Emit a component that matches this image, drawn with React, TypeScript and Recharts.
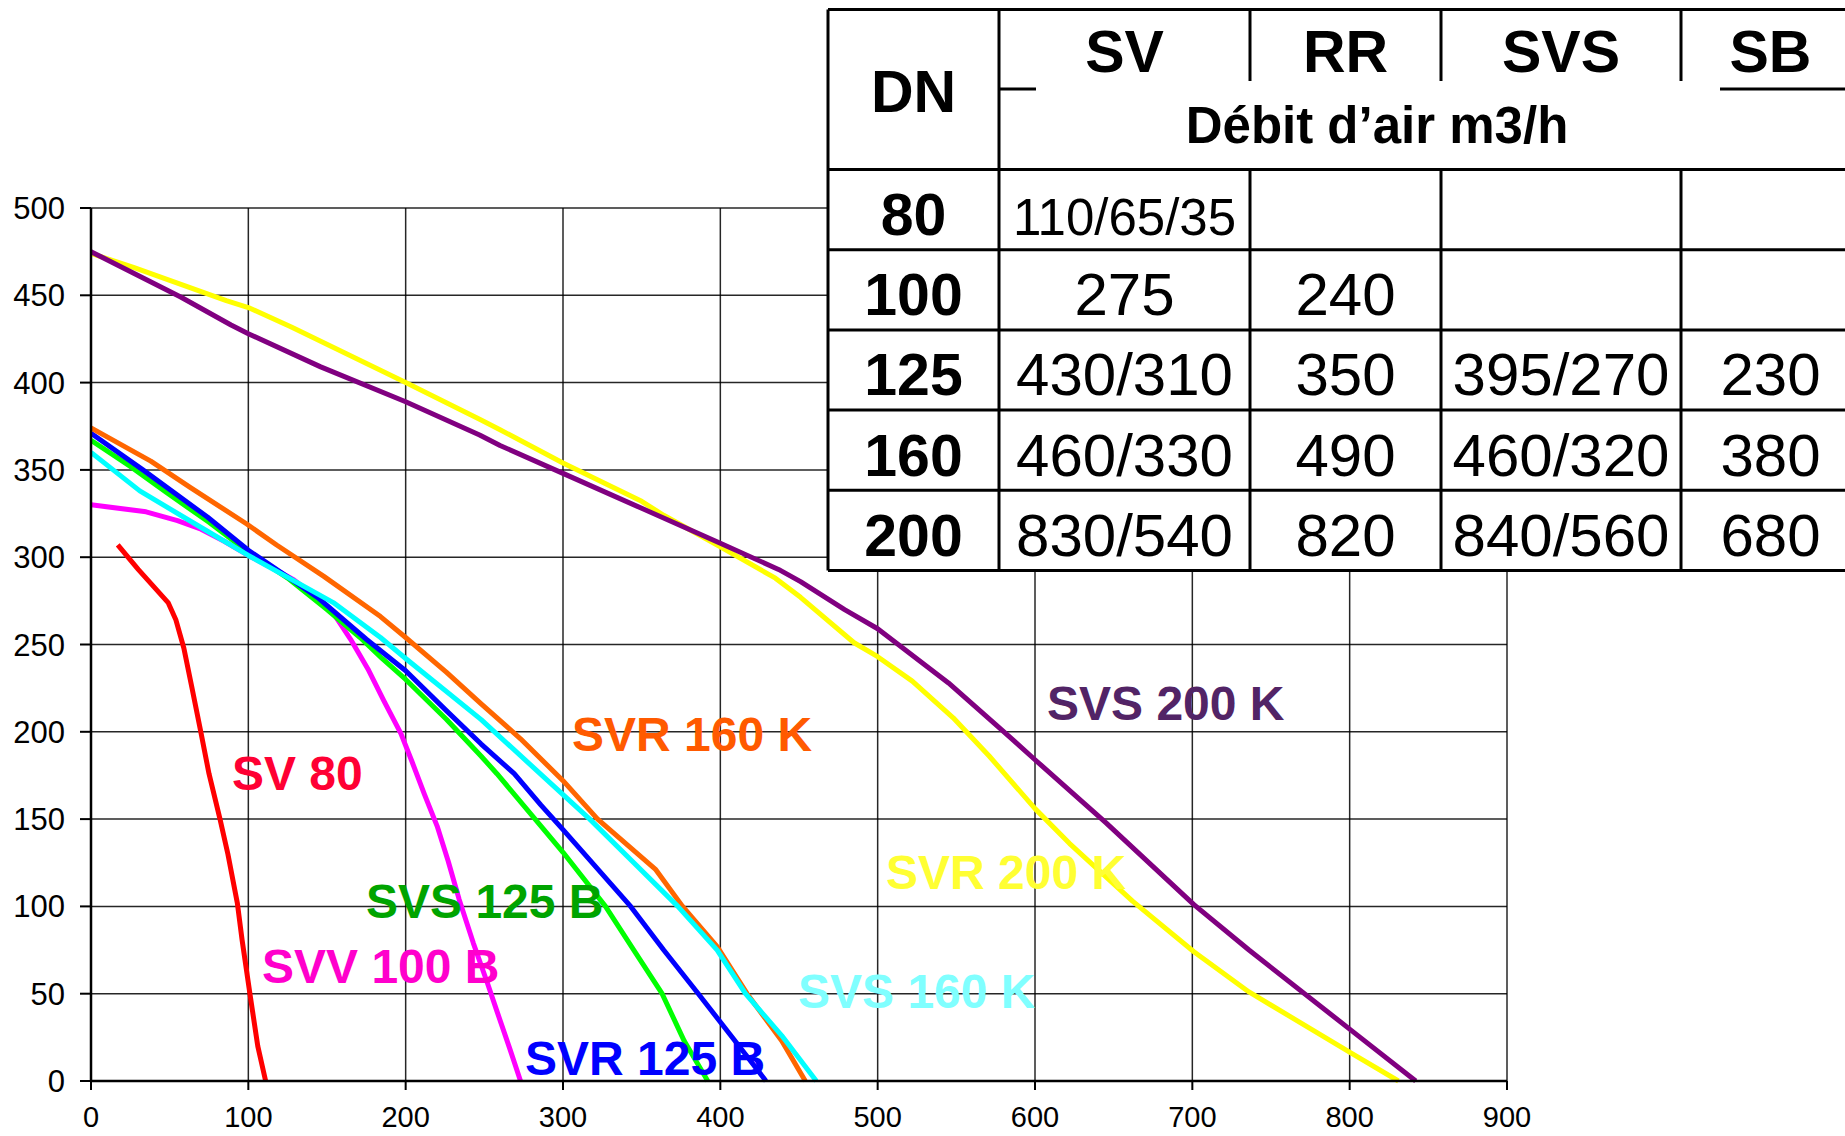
import { CartesianGrid, Line, LineChart, XAxis, YAxis } from "recharts"

// curve points: [debit, pression]
const sv80 = [
  [17, 307], [30, 293], [40, 283], [49, 274], [54, 264], [59, 248], [64, 226], [70, 199],
  [75, 176], [82, 150], [87, 130], [93, 102], [96, 81], [101, 50], [106, 20], [111, 0],
]
const svv100b = [
  [0, 330], [35, 326], [55, 321], [70, 316], [85, 309], [100, 301], [115, 294], [129, 287],
  [145, 276], [154, 268], [165, 253], [176, 236], [186, 218], [197, 199], [204, 183], [212, 164],
  [220, 146], [227, 126], [234, 104], [243, 79], [252, 56], [258, 40], [266, 19], [273, 0],
]
const svs125b = [
  [0, 367], [25, 352], [48, 337], [75, 320], [100, 303], [125, 288], [150, 270], [171, 254],
  [185, 242], [200, 230], [226, 207], [248, 186], [258, 176], [286, 146], [300, 131], [327, 100],
  [345, 75], [363, 50], [377, 23], [392, 0],
]
const svr125b = [
  [0, 371], [33, 350], [74, 323], [100, 304], [144, 277], [175, 253], [200, 235], [226, 212],
  [248, 193], [269, 176], [286, 158], [300, 144], [343, 100], [364, 75], [386, 50], [411, 21],
  [429, 0],
]
const svr160k = [
  [0, 374], [38, 355], [63, 340], [99, 319], [118, 307], [148, 289], [184, 266], [200, 254],
  [226, 234], [248, 216], [273, 196], [300, 172], [322, 150], [359, 121], [376, 100], [398, 77],
  [417, 50], [439, 23], [454, 0],
]
const svs160k = [
  [0, 360], [31, 338], [70, 317], [100, 301], [154, 274], [184, 254], [200, 242], [248, 207],
  [300, 164], [317, 150], [345, 125], [373, 100], [398, 75], [416, 50], [439, 26], [461, 0],
]
const svr200k = [
  [0, 474], [27, 466], [86, 447], [100, 443], [127, 432], [200, 400], [247, 379], [260, 373],
  [300, 354], [350, 332], [364, 324], [400, 306], [435, 288], [451, 277], [485, 251], [500, 243],
  [522, 229], [548, 208], [571, 186], [600, 156], [622, 136], [662, 103], [701, 74], [736, 51],
  [801, 16], [831, 0],
]
const svs200k = [
  [0, 475], [57, 449], [89, 433], [100, 428], [146, 409], [200, 389], [247, 370], [260, 364],
  [300, 348], [350, 328], [400, 308], [437, 293], [451, 286], [479, 270], [500, 259], [545, 228],
  [579, 201], [600, 184], [645, 148], [701, 101], [736, 75], [801, 29], [842, 0],
]

const xTicks = [0, 100, 200, 300, 400, 500, 600, 700, 800, 900]
const yTicks = [0, 50, 100, 150, 200, 250, 300, 350, 400, 450, 500]

// table
const tableHeads = ["SV", "RR", "SVS", "SB"]
const dnRows = ["80", "100", "125", "160", "200"]
const svFlow = ["110/65/35", "275", "430/310", "460/330", "830/540"]
const rrFlow = ["", "240", "350", "490", "820"]
const svsFlow = ["", "", "395/270", "460/320", "840/560"]
const sbFlow = ["", "", "230", "380", "680"]

const series = [
  { name: "SV 80", pts: sv80, color: "#ff0000", label: "#ff0033", lx: 232, ly: 790 },
  { name: "SVV 100 B", pts: svv100b, color: "#ff00ff", label: "#ff00cc", lx: 262, ly: 983 },
  { name: "SVS 125 B", pts: svs125b, color: "#00ff00", label: "#00a400", lx: 366, ly: 918 },
  { name: "SVR 125 B", pts: svr125b, color: "#0000ff", label: "#0000ff", lx: 525, ly: 1075 },
  { name: "SVR 160 K", pts: svr160k, color: "#ff6600", label: "#ff5a00", lx: 572, ly: 751 },
  { name: "SVS 160 K", pts: svs160k, color: "#00ffff", label: "#80ffff", lx: 798, ly: 1008 },
  { name: "SVR 200 K", pts: svr200k, color: "#ffff00", label: "#ffff33", lx: 886, ly: 889 },
  { name: "SVS 200 K", pts: svs200k, color: "#800080", label: "#522466", lx: 1047, ly: 720 },
]

const font = "'Liberation Sans', Arial, sans-serif"

function FlowTable() {
  const cols = [828, 999, 1250, 1441, 1681, 1860]
  const top = 9.5
  const headBottom = 169.5
  const rowH = 80.2
  const bottom = headBottom + rowH * dnRows.length
  const mid = (i: number) => (cols[i] + cols[i + 1]) / 2
  const rowsData = [svFlow, rrFlow, svsFlow, sbFlow]
  return (
    <g fontFamily={font} fill="#000">
      <rect x={cols[0]} y={top} width={cols[5] - cols[0]} height={bottom - top} fill="#fff" stroke="none" />
      <g stroke="#000" strokeWidth={3}>
        <line x1={cols[0]} y1={top} x2={1845} y2={top} />
        <line x1={cols[0]} y1={top} x2={cols[0]} y2={bottom} />
        <line x1={cols[1]} y1={top} x2={cols[1]} y2={bottom} />
        {[2, 3, 4].map((c) => (
          <line key={c} x1={cols[c]} y1={top} x2={cols[c]} y2={81} />
        ))}
        {[2, 3, 4].map((c) => (
          <line key={"r" + c} x1={cols[c]} y1={headBottom} x2={cols[c]} y2={bottom} />
        ))}
        <line x1={cols[1]} y1={89} x2={1036} y2={89} />
        <line x1={1720} y1={89} x2={1845} y2={89} />
        {dnRows.map((_, i) => (
          <line key={"h" + i} x1={cols[0]} y1={headBottom + rowH * i} x2={1845} y2={headBottom + rowH * i} />
        ))}
        <line x1={cols[0]} y1={bottom} x2={1845} y2={bottom} />
      </g>
      <text x={mid(0)} y={112} fontSize={59} fontWeight="bold" textAnchor="middle">DN</text>
      {tableHeads.map((h, i) => (
        <text key={h} x={mid(i + 1)} y={72} fontSize={59} fontWeight="bold" textAnchor="middle">{h}</text>
      ))}
      <text x={1377} y={143} fontSize={51} fontWeight="bold" textAnchor="middle">Débit d’air m3/h</text>
      {dnRows.map((dn, r) => {
        const base = headBottom + rowH * r + 65.5
        return (
          <g key={dn}>
            <text x={mid(0)} y={base} fontSize={59} fontWeight="bold" textAnchor="middle">{dn}</text>
            {rowsData.map((col, c) => (
              <text key={c} x={mid(c + 1)} y={base} fontSize={col[r].length > 7 ? 51 : 60} textAnchor="middle">
                {col[r]}
              </text>
            ))}
          </g>
        )
      })}
    </g>
  )
}

export default function App() {
  return (
    <div style={{ position: "absolute", left: 0, top: 0, width: 1845, height: 1136, background: "#fff" }}>
      <LineChart width={1845} height={1136} margin={{ top: 208, right: 338, bottom: 0, left: 0 }}>
        <CartesianGrid stroke="#000" strokeWidth={1.5} strokeOpacity={0.85} />
        <XAxis
          type="number"
          dataKey="x"
          domain={[0, 900]}
          ticks={xTicks}
          height={55}
          tickSize={9}
          tickMargin={16}
          axisLine={{ stroke: "#000", strokeWidth: 2.5 }}
          tickLine={{ stroke: "#000", strokeWidth: 2 }}
          tick={{ fill: "#000", fontSize: 29, fontFamily: font }}
          allowDataOverflow
        />
        <YAxis
          type="number"
          dataKey="y"
          domain={[0, 500]}
          ticks={yTicks}
          width={91}
          tickSize={11}
          tickMargin={15}
          axisLine={{ stroke: "#000", strokeWidth: 2.5 }}
          tickLine={{ stroke: "#000", strokeWidth: 2 }}
          tick={{ fill: "#000", fontSize: 31, fontFamily: font }}
        />
        {series.map((s) => (
          <Line
            key={s.name}
            data={s.pts.map(([x, y]) => ({ x, y }))}
            dataKey="y"
            type="linear"
            stroke={s.color}
            strokeWidth={5}
            strokeLinejoin="round"
            dot={false}
            activeDot={false}
            isAnimationActive={false}
          />
        ))}
      </LineChart>
      <svg width={1845} height={1136} style={{ position: "absolute", left: 0, top: 0, pointerEvents: "none" }}>
        {series.map((s) => (
          <text key={s.name} x={s.lx} y={s.ly} fill={s.label} fontSize={48} fontWeight="bold" fontFamily={font}>
            {s.name}
          </text>
        ))}
        <FlowTable />
      </svg>
    </div>
  )
}
